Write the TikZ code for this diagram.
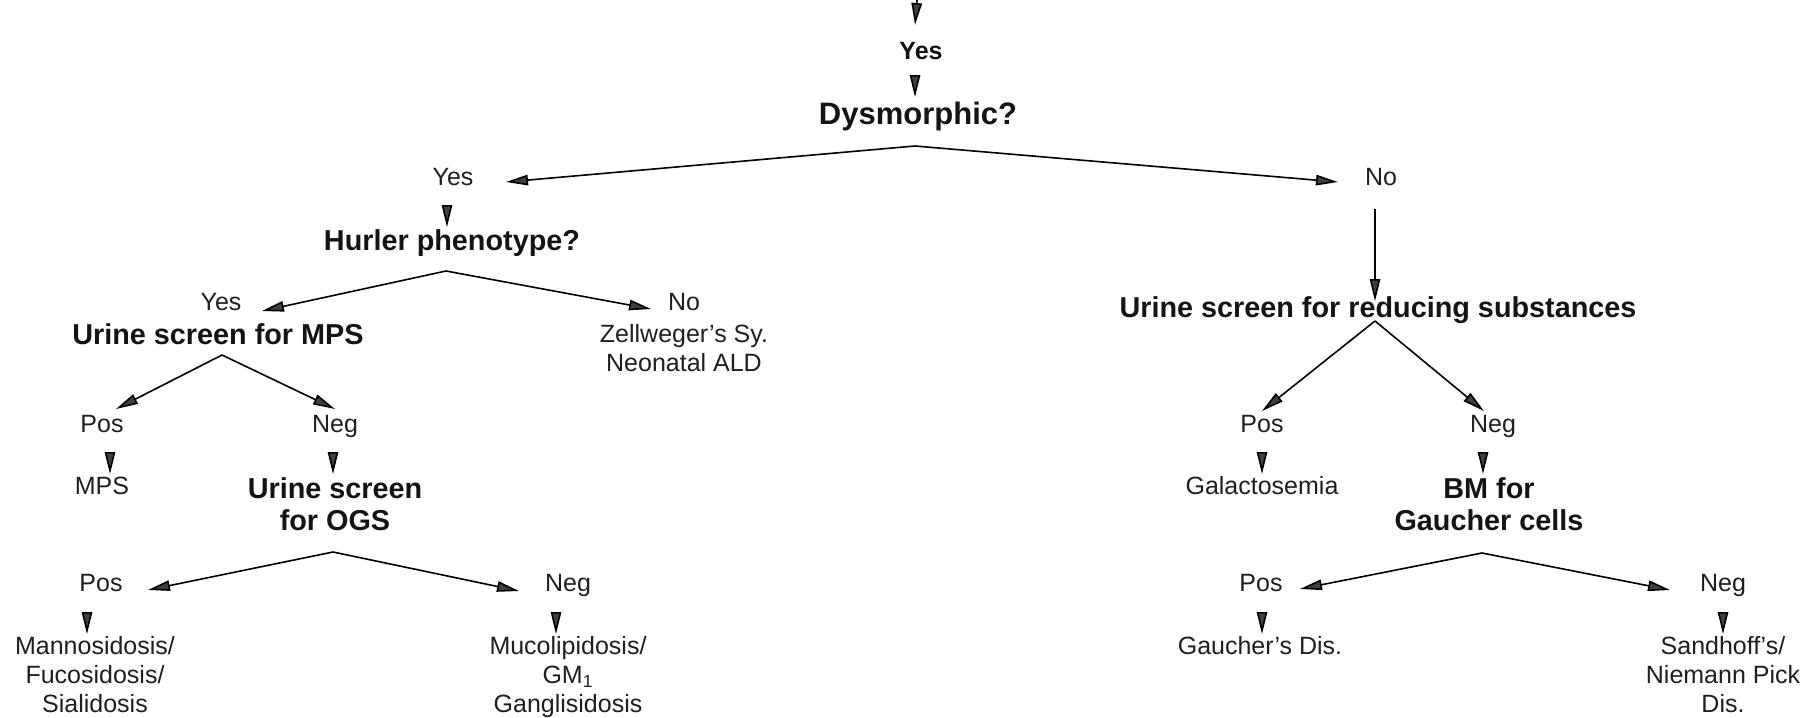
\documentclass[tikz,border=0pt]{standalone}
\usepackage{fontspec}
\setmainfont{Liberation Sans}
\usetikzlibrary{arrows.meta}
\begin{document}
\begin{tikzpicture}[x=0.5pt,y=-0.5pt,
  lbl/.style={anchor=north, inner sep=0pt, text=black!88, font=\fontsize{12.5}{14.5}\selectfont, text height=8.6pt, text depth=0pt},
  lblm/.style={anchor=north, inner sep=0pt, text=black!88, font=\fontsize{12.5}{14.5}\selectfont, align=center},
  hd/.style={anchor=north, inner sep=0pt, text=black!92, font=\fontsize{14.4}{16}\selectfont\bfseries, text height=9.9pt, text depth=0pt},
  hdm/.style={anchor=north, inner sep=0pt, text=black!92, font=\fontsize{14.4}{16}\selectfont\bfseries, align=center},
  arr/.style={draw=black, line width=0.8pt, -{Triangle[length=11pt,width=5.2pt,fill=black!75]}},
]
\useasboundingbox (0,0) rectangle (1817,718);

% top
\coordinate (topc) at (917,0);
\node[hd, font=\fontsize{12.5}{14}\selectfont\bfseries, text height=8.6pt] (topYes) at (921,42) {Yes};
\node[hd, font=\fontsize{15.5}{17}\selectfont\bfseries, text height=10.7pt] (dys) at (918,103) {Dysmorphic?};

% left branch
\node[lbl] (yesL) at (453,168) {Yes};
\node[hd] (hurler) at (452,230) {Hurler phenotype?};
\node[lbl] (yes2) at (221,293) {Yes};
\node[lbl] (no2) at (684,293) {No};
\node[hd] (mps) at (218,324) {Urine screen for MPS};
\node[lblm] (zell) at (684,324) {Zellweger's Sy.\\Neonatal ALD};
\node[lbl] (pos1) at (102,415) {Pos};
\node[lbl] (neg1) at (335,415) {Neg};
\node[lbl] (mpsres) at (102,477) {MPS};
\node[hdm] (ogs) at (335,477) {Urine screen\\for OGS};
\node[lbl] (pos2) at (101,574) {Pos};
\node[lbl] (neg2) at (568,574) {Neg};
\node[lblm] (manno) at (95,636) {Mannosidosis/\\Fucosidosis/\\Sialidosis};
\node[lblm] (muco) at (568,636) {Mucolipidosis/\\GM\textsubscript{1}\\Ganglisidosis};

% right branch
\node[lbl] (noR) at (1381,168) {No};
\node[hd] (red) at (1378,297) {Urine screen for reducing substances};
\node[lbl] (pos3) at (1262,415) {Pos};
\node[lbl] (neg3) at (1493,415) {Neg};
\node[lbl] (gal) at (1262,477) {Galactosemia};
\node[hdm] (bm) at (1489,477) {BM for\\Gaucher cells};
\node[lbl] (pos4) at (1261,574) {Pos};
\node[lbl] (neg4) at (1723,574) {Neg};
\node[lblm] (gaud) at (1260,636) {Gaucher's Dis.};
\node[lblm] (sand) at (1723,636) {Sandhoff's/\\Niemann Pick\\Dis.};

% branch apexes
\coordinate (dysA) at (915,146);
\coordinate (hurA) at (446,271);
\coordinate (mpsA) at (222,355);
\coordinate (ogsA) at (333,552);
\coordinate (redA) at (1375,321);
\coordinate (bmA) at (1482,553);

% vertical arrowheads
\draw[arr] (topc) -- ([shift={(-6,-17)}]topYes.north);
\draw[arr] ([shift={(-6,35)}]topYes.north) -- ([shift={(-3,-6)}]dys.north);
\draw[arr] ([shift={(-6,39)}]yesL.north) -- ([shift={(-5,-3)}]hurler.north);
\draw[arr] ([shift={(8,39)}]pos1.north) -- ([shift={(8,-3)}]mpsres.north);
\draw[arr] ([shift={(-2,39)}]neg1.north) -- ([shift={(-2,-3)}]ogs.north);
\draw[arr] ([shift={(-14,40)}]pos2.north) -- ([shift={(-8,-2)}]manno.north);
\draw[arr] ([shift={(-12,40)}]neg2.north) -- ([shift={(-12,-2)}]muco.north);
\draw[arr] ([shift={(0,39)}]pos3.north) -- ([shift={(0,-3)}]gal.north);
\draw[arr] ([shift={(-10,39)}]neg3.north) -- ([shift={(-6,-3)}]bm.north);
\draw[arr] ([shift={(1,40)}]pos4.north) -- ([shift={(2,-2)}]gaud.north);
\draw[arr] ([shift={(0,40)}]neg4.north) -- ([shift={(0,-2)}]sand.north);
\draw[arr] ([shift={(-6,41)}]noR.north) -- ([shift={(-3,4)}]red.north);

% branching arrows
\draw[arr] (dysA) -- ([shift={(53,14)}]yesL.north);
\draw[arr] (dysA) -- ([shift={(-43,14)}]noR.north);
\draw[arr] (hurA) -- ([shift={(41,18)}]yes2.north);
\draw[arr] (hurA) -- ([shift={(-33,16)}]no2.north);
\draw[arr] (mpsA) -- ([shift={(14,-6)}]pos1.north);
\draw[arr] (mpsA) -- ([shift={(0,-6)}]neg1.north);
\draw[arr] (ogsA) -- ([shift={(47,16)}]pos2.north);
\draw[arr] (ogsA) -- ([shift={(-49,17)}]neg2.north);
\draw[arr] (redA) -- ([shift={(0,-4)}]pos3.north);
\draw[arr] (redA) -- ([shift={(-9,-4)}]neg3.north);
\draw[arr] (bmA) -- ([shift={(39,15)}]pos4.north);
\draw[arr] (bmA) -- ([shift={(-53,16)}]neg4.north);
\end{tikzpicture}
\end{document}
